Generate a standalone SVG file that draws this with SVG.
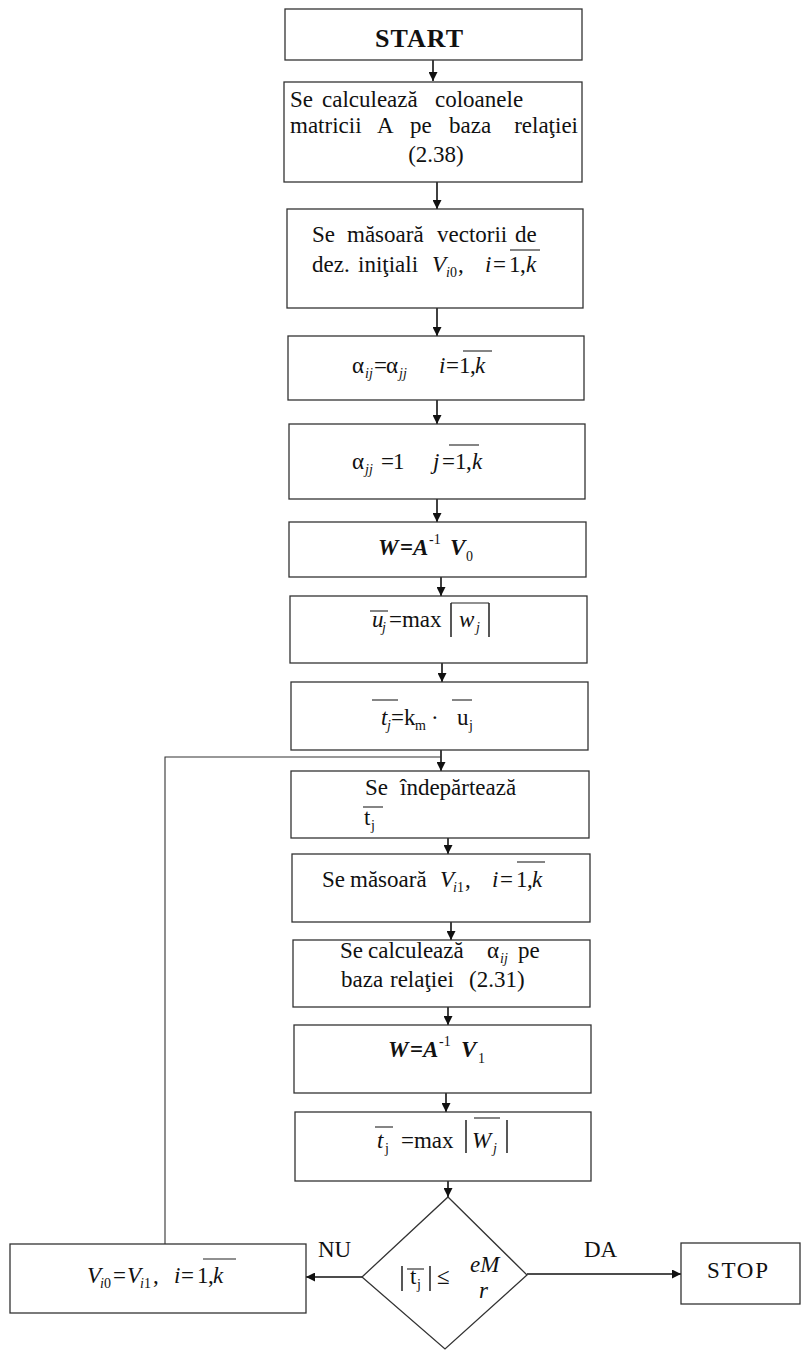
<svg xmlns="http://www.w3.org/2000/svg" width="803" height="1350" viewBox="0 0 803 1350">
<style>
.bx{fill:#fff;stroke:#333;stroke-width:1.3}
.t{font-family:"Liberation Serif","Times New Roman",serif;font-size:23px;fill:#111}
.i{font-style:italic}
.b{font-weight:bold}
.s{font-size:14px}
.ol{stroke:#222;stroke-width:1.1}
.bar{stroke:#111;stroke-width:1.4}
.c{fill:none;stroke:#111;stroke-width:1.6}
.lp{fill:none;stroke:#333;stroke-width:1.1}
</style>
<defs>
<marker id="ah" viewBox="0 0 10 10" refX="10" refY="5" markerWidth="9" markerHeight="9" markerUnits="userSpaceOnUse" orient="auto">
<path d="M0,0 L10,5 L0,10 z" fill="#111"/>
</marker>
</defs>
<rect width="803" height="1350" fill="#fff"/>

<g id="connectors">
<line class="c" x1="433" y1="60" x2="433" y2="81" marker-end="url(#ah)"/>
<line class="c" x1="437" y1="182" x2="437" y2="209" marker-end="url(#ah)"/>
<line class="c" x1="437" y1="308" x2="437" y2="336" marker-end="url(#ah)"/>
<line class="c" x1="437" y1="400" x2="437" y2="424" marker-end="url(#ah)"/>
<line class="c" x1="437" y1="499" x2="437" y2="522" marker-end="url(#ah)"/>
<line class="c" x1="441" y1="577" x2="441" y2="596" marker-end="url(#ah)"/>
<line class="c" x1="442" y1="663" x2="442" y2="682" marker-end="url(#ah)"/>
<line class="c" x1="441" y1="750" x2="441" y2="771" marker-end="url(#ah)"/>
<line class="c" x1="448" y1="838" x2="448" y2="854" marker-end="url(#ah)"/>
<line class="c" x1="451" y1="922" x2="451" y2="940" marker-end="url(#ah)"/>
<line class="c" x1="448" y1="1007" x2="448" y2="1025" marker-end="url(#ah)"/>
<line class="c" x1="446" y1="1093" x2="446" y2="1112" marker-end="url(#ah)"/>
<line class="c" x1="448" y1="1181" x2="448" y2="1197" marker-end="url(#ah)"/>
<polyline class="lp" points="165,1244 165,757 441,757"/>
<line class="c" x1="362" y1="1277" x2="306" y2="1277" marker-end="url(#ah)"/>
<line class="c" x1="527" y1="1274" x2="681" y2="1274" marker-end="url(#ah)"/>
<text class="t" x="318" y="1257">NU</text>
<text class="t" x="584" y="1257">DA</text>
</g>

<g id="start">
<rect class="bx" x="285" y="9" width="297" height="51"/>
<text class="t b" x="375" y="47" style="font-size:26px" textLength="88">START</text>
</g>

<g id="n2">
<rect class="bx" x="284" y="82" width="298" height="100"/>
<text class="t"><tspan x="290" y="107">Se</tspan><tspan x="322" y="107">calculează</tspan><tspan x="435" y="107">coloanele</tspan></text>
<text class="t"><tspan x="290" y="133">matricii</tspan><tspan x="377" y="133">A</tspan><tspan x="410" y="133">pe</tspan><tspan x="449" y="133">baza</tspan><tspan x="578" y="133" text-anchor="end">relaţiei</tspan></text>
<text class="t" x="436" y="162" text-anchor="middle">(2.38)</text>
</g>

<g id="n3">
<rect class="bx" x="287" y="209" width="296" height="99"/>
<text class="t"><tspan x="312" y="242">Se</tspan><tspan x="347" y="242">măsoară</tspan><tspan x="437" y="242">vectorii</tspan><tspan x="515" y="242">de</tspan></text>
<text class="t"><tspan x="312" y="272">dez.</tspan><tspan x="358" y="272">iniţiali</tspan><tspan class="i" x="432" y="272">V</tspan><tspan class="i s" x="446" y="277">i</tspan><tspan class="s" x="450" y="277">0</tspan><tspan x="458" y="272">,</tspan><tspan class="i" x="485" y="272">i</tspan><tspan x="493" y="272">=</tspan><tspan x="509" y="272">1</tspan><tspan x="520" y="272">,</tspan><tspan class="i" x="526" y="272">k</tspan></text>
<line class="ol" x1="510" y1="250" x2="540" y2="250"/>
</g>

<g id="n4">
<rect class="bx" x="288" y="336" width="296" height="64"/>
<text class="t"><tspan x="352" y="373">α</tspan><tspan class="i s" x="365" y="378">ij</tspan><tspan x="374" y="373">=</tspan><tspan x="386" y="373">α</tspan><tspan class="i s" x="399" y="378">jj</tspan><tspan class="i" x="439" y="373">i</tspan><tspan x="446" y="373">=</tspan><tspan x="459" y="373">1</tspan><tspan x="470" y="373">,</tspan><tspan class="i" x="475" y="373">k</tspan></text>
<line class="ol" x1="463" y1="351" x2="492" y2="351"/>
</g>

<g id="n5">
<rect class="bx" x="289" y="424" width="296" height="75"/>
<text class="t"><tspan x="352" y="469">α</tspan><tspan class="i s" x="365" y="474">jj</tspan><tspan x="381" y="469">=</tspan><tspan x="393" y="469">1</tspan><tspan class="i" x="433" y="469">j</tspan><tspan x="442" y="469">=</tspan><tspan x="455" y="469">1</tspan><tspan x="466" y="469">,</tspan><tspan class="i" x="472" y="469">k</tspan></text>
<line class="ol" x1="449" y1="445" x2="479" y2="445"/>
</g>

<g id="n6">
<rect class="bx" x="289" y="522" width="297" height="55"/>
<text class="t"><tspan class="i b" x="378" y="555">W</tspan><tspan class="b" x="400" y="555">=</tspan><tspan class="i b" x="413" y="555">A</tspan><tspan class="s" x="429" y="544">-1</tspan><tspan class="i b" x="450" y="555">V</tspan><tspan class="s" x="466" y="561">0</tspan></text>
</g>

<g id="n7">
<rect class="bx" x="290" y="596" width="297" height="67"/>
<text class="t"><tspan class="i" x="372" y="627">u</tspan><tspan class="i s" x="382" y="632">j</tspan><tspan x="389" y="627">=max</tspan><tspan class="i" x="459" y="627">w</tspan><tspan class="i s" x="476" y="632">j</tspan></text>
<line class="ol" x1="370" y1="611" x2="388" y2="611"/>
<line class="bar" x1="451" y1="603" x2="451" y2="637"/>
<line class="bar" x1="489" y1="603" x2="489" y2="637"/>
<line class="ol" x1="451" y1="603" x2="489" y2="603"/>
</g>

<g id="n8">
<rect class="bx" x="291" y="682" width="297" height="68"/>
<text class="t"><tspan class="i" x="381" y="725">t</tspan><tspan class="i s" x="387" y="730">j</tspan><tspan x="391" y="725">=</tspan><tspan x="404" y="725">k</tspan><tspan class="s" x="415" y="730">m</tspan><tspan x="431" y="725">·</tspan><tspan x="457" y="725">u</tspan><tspan class="s" x="469" y="730">j</tspan></text>
<line class="ol" x1="372" y1="700" x2="398" y2="700"/>
<line class="ol" x1="452" y1="700" x2="472" y2="700"/>
</g>

<g id="n9">
<rect class="bx" x="291" y="771" width="298" height="67"/>
<text class="t"><tspan x="365" y="795">Se</tspan><tspan x="400" y="795">îndepărtează</tspan></text>
<text class="t"><tspan x="364" y="825">t</tspan><tspan class="s" x="371" y="830">j</tspan></text>
<line class="ol" x1="363" y1="807" x2="383" y2="807"/>
</g>

<g id="n10">
<rect class="bx" x="292" y="854" width="298" height="68"/>
<text class="t"><tspan x="322" y="887">Se</tspan><tspan x="350" y="887">măsoară</tspan><tspan class="i" x="440" y="887">V</tspan><tspan class="i s" x="453" y="892">i</tspan><tspan class="s" x="457" y="892">1</tspan><tspan x="465" y="887">,</tspan><tspan class="i" x="492" y="887">i</tspan><tspan x="500" y="887">=</tspan><tspan x="516" y="887">1</tspan><tspan x="527" y="887">,</tspan><tspan class="i" x="532" y="887">k</tspan></text>
<line class="ol" x1="517" y1="862" x2="545" y2="862"/>
</g>

<g id="n11">
<rect class="bx" x="293" y="940" width="297" height="67"/>
<text class="t"><tspan x="340" y="958">Se</tspan><tspan x="368" y="958">calculează</tspan><tspan x="487" y="958">α</tspan><tspan class="i s" x="500" y="963">ij</tspan><tspan x="518" y="958">pe</tspan></text>
<text class="t"><tspan x="341" y="987">baza</tspan><tspan x="390" y="987">relaţiei</tspan><tspan x="469" y="987">(2.31)</tspan></text>
</g>

<g id="n12">
<rect class="bx" x="294" y="1025" width="297" height="68"/>
<text class="t"><tspan class="i b" x="388" y="1057">W</tspan><tspan class="b" x="410" y="1057">=</tspan><tspan class="i b" x="423" y="1057">A</tspan><tspan class="s" x="439" y="1046">-1</tspan><tspan class="i b" x="461" y="1057">V</tspan><tspan class="s" x="478" y="1063">1</tspan></text>
</g>

<g id="n13">
<rect class="bx" x="295" y="1112" width="296" height="69"/>
<text class="t"><tspan class="i" x="377" y="1148">t</tspan><tspan class="s" x="385" y="1153">j</tspan><tspan x="401" y="1148">=max</tspan><tspan class="i" x="472" y="1148">W</tspan><tspan class="i s" x="493" y="1153">j</tspan></text>
<line class="ol" x1="375" y1="1127" x2="393" y2="1127"/>
<line class="ol" x1="474" y1="1118" x2="500" y2="1118"/>
<line class="bar" x1="466" y1="1120" x2="466" y2="1153"/>
<line class="bar" x1="507" y1="1120" x2="507" y2="1153"/>
</g>

<g id="decision">
<polygon class="bx" points="448,1197 527,1275 445,1349 362,1277"/>
<line class="bar" x1="402" y1="1266" x2="402" y2="1291"/>
<line class="bar" x1="430" y1="1266" x2="430" y2="1291"/>
<line class="ol" x1="407" y1="1269" x2="424" y2="1269"/>
<text class="t"><tspan x="410" y="1284">t</tspan><tspan class="s" x="417" y="1289">j</tspan><tspan x="437" y="1284">≤</tspan><tspan class="i" x="470" y="1272">eM</tspan><tspan class="i" x="479" y="1298">r</tspan></text>
</g>

<g id="update">
<rect class="bx" x="10" y="1244" width="296" height="69"/>
<text class="t"><tspan class="i" x="87" y="1283">V</tspan><tspan class="i s" x="100" y="1288">i</tspan><tspan class="s" x="104" y="1288">0</tspan><tspan x="113" y="1283">=</tspan><tspan class="i" x="127" y="1283">V</tspan><tspan class="i s" x="140" y="1288">i</tspan><tspan class="s" x="144" y="1288">1</tspan><tspan x="153" y="1283">,</tspan><tspan class="i" x="174" y="1283">i</tspan><tspan x="181" y="1283">=</tspan><tspan x="197" y="1283">1</tspan><tspan x="208" y="1283">,</tspan><tspan class="i" x="213" y="1283">k</tspan></text>
<line class="ol" x1="203" y1="1259" x2="236" y2="1259"/>
</g>

<g id="stop">
<rect class="bx" x="681" y="1243" width="119" height="61"/>
<text class="t" x="707" y="1278" style="font-size:23px" textLength="61">STOP</text>
</g>
</svg>
